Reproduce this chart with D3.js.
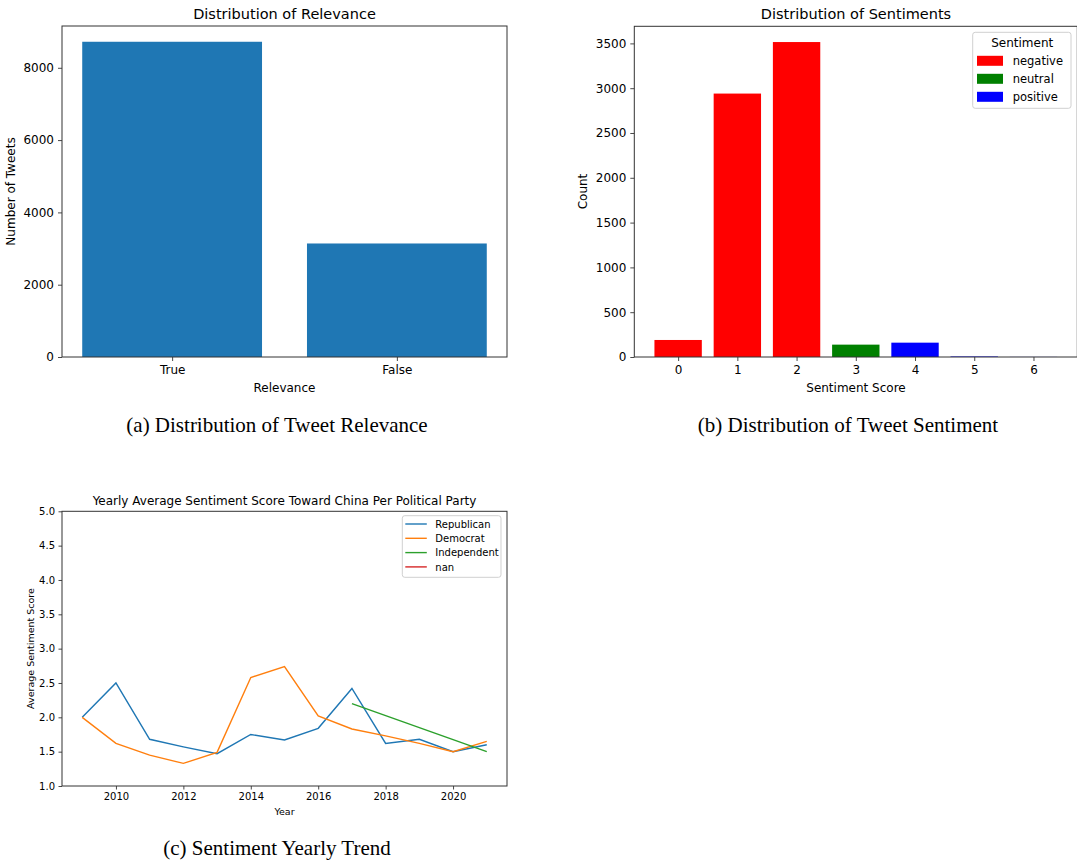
<!DOCTYPE html>
<html>
<head>
<meta charset="utf-8">
<script src="https://cdn.jsdelivr.net/npm/d3@7"></script>
<style>
  body { margin: 0; background: #fff; }
  svg text { font-family: "DejaVu Sans", sans-serif; fill: #000; }
  .caption { font-family: "Liberation Serif", serif; font-size: 21px; }
  .domain { display: none; }
  .tick line { stroke: #333; stroke-width: 0.9; }
</style>
</head>
<body>
<div id="wrapper"></div>
<script>
// (a) relevance counts
relevanceCats = ['True', 'False'] ;
relevanceCounts = [8720, 3140] ;

// (b) sentiment score counts
sentimentScores = [0, 1, 2, 3, 4, 5, 6] ;
sentimentCounts = [190, 2940, 3515, 138, 160, 6, 1] ;
sentimentClass = ['negative', 'negative', 'negative', 'neutral', 'positive', 'positive', 'positive'] ;
sentimentClasses = ['negative', 'neutral', 'positive'] ;

// (c) yearly average sentiment per party
years = [2009, 2010, 2011, 2012, 2013, 2014, 2015, 2016, 2017, 2018, 2019, 2020, 2021] ;
republicanAvg = [2.0, 2.5, 1.68, 1.57, 1.47, 1.75, 1.67, 1.84, 2.42, 1.62, 1.68, 1.50, 1.60] ;
democratAvg = [2.0, 1.62, 1.45, 1.33, 1.49, 2.58, 2.74, 2.02, 1.83, 1.73, 1.62, 1.50, 1.65] ;
independentYears = [2017, 2021] ;
independentAvg = [2.2, 1.5] ;
nanYears = [] ;
nanAvg = [] ;
parties = ['Republican', 'Democrat', 'Independent', 'nan'] ;
yearTicks = [2010, 2012, 2014, 2016, 2018, 2020] ;
scoreTicks = [1.0, 1.5, 2.0, 2.5, 3.0, 3.5, 4.0, 4.5, 5.0] ;

const svg = d3.select("#wrapper").append("svg")
  .attr("width", 1077)
  .attr("height", 861)
;

function frame(g, w, h) {
  g.append("rect")
    .attr("x", 0).attr("y", 0)
    .attr("width", w).attr("height", h)
    .attr("fill", "none")
    .attr("stroke", "#333")
    .attr("stroke-width", 1)
  ;
}

function drawRelevance() {
  let dimensions = { left: 62, top: 26, width: 445, height: 331 } ;
  const bounds = svg.append("g")
    .attr("transform", `translate(${dimensions.left}, ${dimensions.top})`) ;

  const xScale = d3.scaleLinear()
    .domain([-0.49, 1.49])
    .range([0, dimensions.width]) ;
  const yScale = d3.scaleLinear()
    .domain([0, d3.max(relevanceCounts) * 1.05])
    .range([dimensions.height, 0]) ;

  bounds.selectAll("rect.bar")
    .data(relevanceCounts)
    .enter().append("rect")
      .attr("class", "bar")
      .attr("x", (d, i) => xScale(i - 0.4))
      .attr("y", (d) => yScale(d))
      .attr("width", xScale(0.8) - xScale(0))
      .attr("height", (d) => dimensions.height - yScale(d))
      .attr("fill", "#1f77b4")
  ;

  bounds.append("g")
    .attr("transform", `translate(0, ${dimensions.height})`)
    .call(d3.axisBottom(xScale).tickValues([0, 1]).tickFormat((i) => relevanceCats[i]).tickSize(4).tickPadding(4))
    .style("font-size", "12px").style("font-family", "DejaVu Sans") ;
  bounds.append("g")
    .call(d3.axisLeft(yScale).tickValues([0, 2000, 4000, 6000, 8000]).tickFormat(d3.format("d")).tickSize(4).tickPadding(4))
    .style("font-size", "12px").style("font-family", "DejaVu Sans") ;
  frame(bounds, dimensions.width, dimensions.height) ;

  svg.append("text").attr("x", 284.5).attr("y", 19).attr("text-anchor", "middle")
    .style("font-size", "14.5px").text("Distribution of Relevance") ;
  svg.append("text").attr("x", 284.5).attr("y", 392).attr("text-anchor", "middle")
    .style("font-size", "12px").text("Relevance") ;
  svg.append("text").attr("transform", "translate(15, 191.5) rotate(-90)").attr("text-anchor", "middle")
    .style("font-size", "12px").text("Number of Tweets") ;
  svg.append("text").attr("class", "caption").attr("x", 277).attr("y", 431.5).attr("text-anchor", "middle")
    .text("(a) Distribution of Tweet Relevance") ;
}

function drawSentiment() {
  let dimensions = { left: 634.3, top: 26.3, width: 443, height: 330.7 } ;
  const bounds = svg.append("g")
    .attr("transform", `translate(${dimensions.left}, ${dimensions.top})`) ;

  const colour = d3.scaleOrdinal()
    .domain(sentimentClasses)
    .range(["#ff0000", "#008000", "#0000ff"]) ;
  const xScale = d3.scaleLinear()
    .domain([-0.74, 6.74])
    .range([0, dimensions.width]) ;
  const yScale = d3.scaleLinear()
    .domain([0, d3.max(sentimentCounts) * 1.05])
    .range([dimensions.height, 0]) ;

  bounds.selectAll("rect.bar")
    .data(sentimentCounts)
    .enter().append("rect")
      .attr("class", "bar")
      .attr("x", (d, i) => xScale(sentimentScores[i] - 0.4))
      .attr("y", (d) => yScale(d))
      .attr("width", xScale(0.8) - xScale(0))
      .attr("height", (d) => dimensions.height - yScale(d))
      .attr("fill", (d, i) => colour(sentimentClass[i]))
  ;

  bounds.append("g")
    .attr("transform", `translate(0, ${dimensions.height})`)
    .call(d3.axisBottom(xScale).tickValues(sentimentScores).tickFormat(d3.format("d")).tickSize(4).tickPadding(4))
    .style("font-size", "12px").style("font-family", "DejaVu Sans") ;
  bounds.append("g")
    .call(d3.axisLeft(yScale).tickValues(d3.range(0, 3501, 500)).tickFormat(d3.format("d")).tickSize(4).tickPadding(4))
    .style("font-size", "12px").style("font-family", "DejaVu Sans") ;
  frame(bounds, dimensions.width, dimensions.height) ;

  // legend
  const leg = svg.append("g").attr("transform", "translate(972.7, 32.3)") ;
  leg.append("rect").attr("width", 98.3).attr("height", 76).attr("rx", 2.5)
    .attr("fill", "#fff").attr("fill-opacity", 0.8).attr("stroke", "#d0d0d0") ;
  leg.append("text").attr("x", 49.5).attr("y", 15).attr("text-anchor", "middle")
    .style("font-size", "12px").text("Sentiment") ;
  sentimentClasses.forEach((c, i) => {
    leg.append("rect").attr("x", 4.3).attr("y", 23.5 + i * 18).attr("width", 26).attr("height", 10)
      .attr("fill", colour(c)) ;
    leg.append("text").attr("x", 40).attr("y", 32.5 + i * 18)
      .style("font-size", "11.5px").text(c) ;
  }) ;

  svg.append("text").attr("x", 856).attr("y", 19).attr("text-anchor", "middle")
    .style("font-size", "14.5px").text("Distribution of Sentiments") ;
  svg.append("text").attr("x", 856).attr("y", 392).attr("text-anchor", "middle")
    .style("font-size", "12px").text("Sentiment Score") ;
  svg.append("text").attr("transform", "translate(586.5, 191.5) rotate(-90)").attr("text-anchor", "middle")
    .style("font-size", "12px").text("Count") ;
  svg.append("text").attr("class", "caption").attr("x", 848).attr("y", 431.5).attr("text-anchor", "middle")
    .text("(b) Distribution of Tweet Sentiment") ;
}

function drawTrend() {
  let dimensions = { left: 62, top: 511.3, width: 445, height: 274.7 } ;
  const bounds = svg.append("g")
    .attr("transform", `translate(${dimensions.left}, ${dimensions.top})`) ;

  const xScale = d3.scaleLinear()
    .domain([2008.4, 2021.6])
    .range([0, dimensions.width]) ;
  const yScale = d3.scaleLinear()
    .domain([1.0, 5.0])
    .range([dimensions.height, 0]) ;
  const colour = d3.scaleOrdinal()
    .domain(parties)
    .range(["#1f77b4", "#ff7f0e", "#2ca02c", "#d62728"]) ;

  const series = [
    { party: 'Republican', x: years, y: republicanAvg },
    { party: 'Democrat', x: years, y: democratAvg },
    { party: 'Independent', x: independentYears, y: independentAvg },
    { party: 'nan', x: nanYears, y: nanAvg },
  ] ;

  const line = d3.line()
    .x((d) => xScale(d[0]))
    .y((d) => yScale(d[1])) ;

  bounds.selectAll("path.party")
    .data(series.filter((s) => s.x.length > 0))
    .enter().append("path")
      .attr("class", "party")
      .attr("d", (s) => line(d3.zip(s.x, s.y)))
      .attr("fill", "none")
      .attr("stroke", (s) => colour(s.party))
      .attr("stroke-width", 1.4)
  ;

  bounds.append("g")
    .attr("transform", `translate(0, ${dimensions.height})`)
    .call(d3.axisBottom(xScale).tickValues(yearTicks).tickFormat(d3.format("d")).tickSize(3.5).tickPadding(3.5))
    .style("font-size", "10px").style("font-family", "DejaVu Sans") ;
  bounds.append("g")
    .call(d3.axisLeft(yScale).tickValues(scoreTicks).tickFormat(d3.format(".1f")).tickSize(3.5).tickPadding(3.5))
    .style("font-size", "10px").style("font-family", "DejaVu Sans") ;
  frame(bounds, dimensions.width, dimensions.height) ;

  // legend
  const leg = svg.append("g").attr("transform", "translate(402.3, 515.7)") ;
  leg.append("rect").attr("width", 98.7).attr("height", 61.6).attr("rx", 2.5)
    .attr("fill", "#fff").attr("fill-opacity", 0.8).attr("stroke", "#d0d0d0") ;
  parties.forEach((p, i) => {
    leg.append("line").attr("x1", 3).attr("x2", 24.5)
      .attr("y1", 8.3 + i * 14.3).attr("y2", 8.3 + i * 14.3)
      .attr("stroke", colour(p)).attr("stroke-width", 1.4) ;
    leg.append("text").attr("x", 33).attr("y", 12 + i * 14.3)
      .style("font-size", "10px").text(p) ;
  }) ;

  svg.append("text").attr("x", 284.5).attr("y", 505).attr("text-anchor", "middle")
    .style("font-size", "12px").text("Yearly Average Sentiment Score Toward China Per Political Party") ;
  svg.append("text").attr("x", 284.5).attr("y", 814.5).attr("text-anchor", "middle")
    .style("font-size", "9.5px").text("Year") ;
  svg.append("text").attr("transform", "translate(33.5, 648.5) rotate(-90)").attr("text-anchor", "middle")
    .style("font-size", "9.5px").text("Average Sentiment Score") ;
  svg.append("text").attr("class", "caption").attr("x", 277).attr("y", 854.5).attr("text-anchor", "middle")
    .text("(c) Sentiment Yearly Trend") ;
}

drawRelevance() ;
drawSentiment() ;
drawTrend() ;
</script>
</body>
</html>
